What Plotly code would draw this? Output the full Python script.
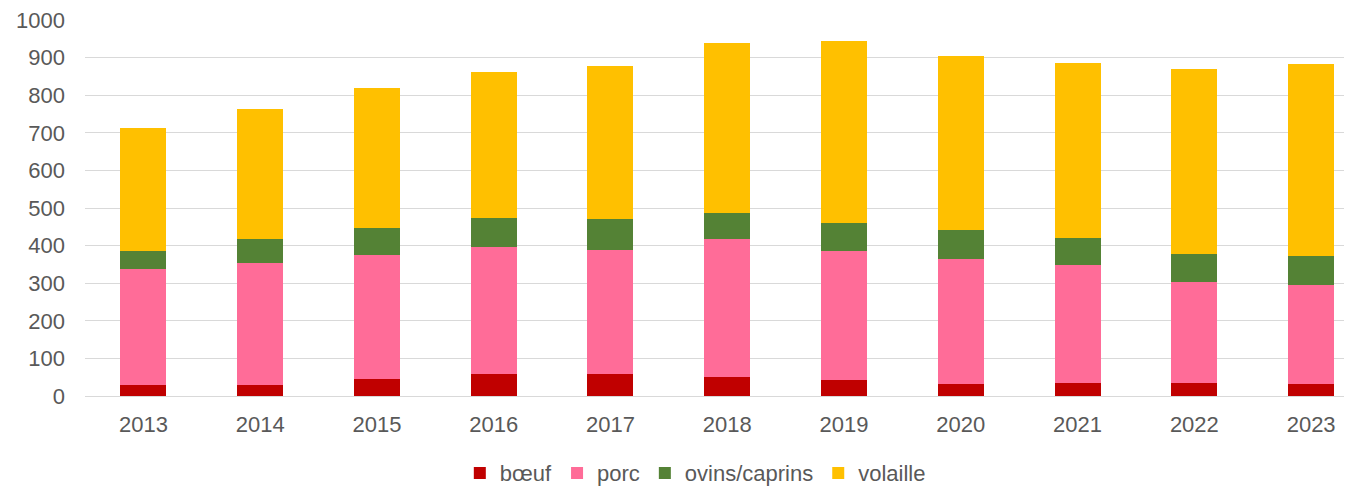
import plotly.graph_objects as go

years = ["2013", "2014", "2015", "2016", "2017", "2018", "2019", "2020", "2021", "2022", "2023"]
boeuf = [29, 29, 44, 58, 59, 51, 42, 33, 35, 35, 33]
porc = [309, 326, 332, 338, 329, 366, 344, 331, 313, 269, 263]
ovins_caprins = [49, 62, 71, 77, 83, 70, 75, 77, 72, 74, 76]
volaille = [325, 346, 373, 389, 406, 453, 483, 463, 466, 491, 512]
y_ticks = [0, 100, 200, 300, 400, 500, 600, 700, 800, 900, 1000]

series = [
    ("bœuf", boeuf, "#C00000"),
    ("porc", porc, "#FF6C98"),
    ("ovins/caprins", ovins_caprins, "#548235"),
    ("volaille", volaille, "#FFC000"),
]

fig = go.Figure()
for name, vals, color in series:
    fig.add_trace(go.Bar(
        x=years, y=vals, name=name,
        marker=dict(color=color, line=dict(width=0)),
    ))

font_color = "#595959"
fig.update_layout(
    barmode="stack",
    bargap=0.606,
    width=1344, height=479,
    margin=dict(l=77, r=0, t=12, b=91, autoexpand=False),
    paper_bgcolor="white",
    plot_bgcolor="white",
    font=dict(family="Liberation Sans, Arial, sans-serif", size=22, color=font_color),
    xaxis=dict(
        type="category",
        range=[-0.5, 10.35],
        automargin=False,
        showgrid=False,
        showline=False,
        ticks="",
        ticklabelstandoff=13,
        tickfont=dict(size=22, color=font_color),
    ),
    yaxis=dict(
        range=[0, 1000.3],
        tickvals=y_ticks,
        automargin=False,
        showgrid=True,
        gridcolor="#D9D9D9",
        gridwidth=1,
        zeroline=True,
        zerolinecolor="#D9D9D9",
        zerolinewidth=1,
        showline=False,
        ticks="",
        ticklabelstandoff=19,
        ticklabeloverflow="allow",
        tickfont=dict(size=22, color=font_color),
    ),
    legend=dict(
        orientation="h",
        x=0.4817, xanchor="center",
        y=-0.205, yanchor="middle",
        font=dict(size=22, color=font_color),
        itemwidth=30,
        traceorder="normal",
    ),
)

fig.write_html("out.html")
